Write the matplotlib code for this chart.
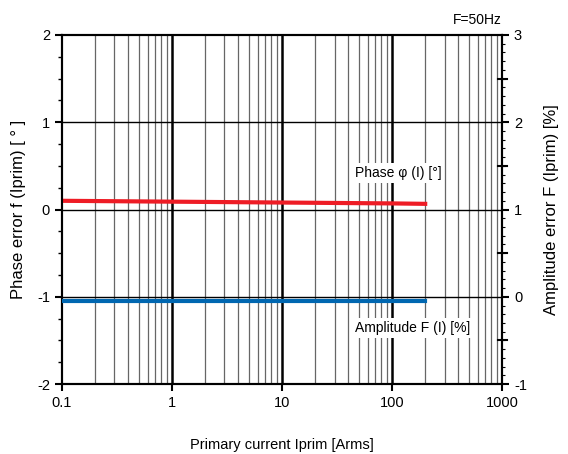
import matplotlib
matplotlib.use("Agg")
import matplotlib.pyplot as plt
from matplotlib.ticker import FixedLocator, MultipleLocator, NullFormatter
import numpy as np

plt.rcParams['font.family'] = ['Liberation Sans', 'DejaVu Sans']
plt.rcParams['axes.unicode_minus'] = False

# data
current = [0.1, 1, 10, 100, 200]                  # Iprim [Arms]
phase_err = [0.10, 0.09, 0.08, 0.07, 0.065]        # [deg], left axis
ampl_err = [-0.045, -0.045, -0.045, -0.045, -0.045]  # [%], right axis

x_ticks = [0.1, 1, 10, 100, 1000]
x_labels = ['0.1', '1', '10', '100', '1000']

fig = plt.figure(figsize=(5.68, 4.54), dpi=100)
ax = fig.add_axes([0.109, 0.154, 0.775, 0.769])
ax2 = ax.twinx()

ax.set_xscale('log')
ax.set_xlim(0.1, 1000)
ax.set_ylim(-2, 2)
ax2.set_ylim(-1, 3)

# grid
minors = [m * 10.0 ** e for e in range(-1, 3) for m in range(2, 10)]
for xv in minors:
    ax.axvline(xv, color='#666666', lw=0.9, zorder=1)
for xv in x_ticks[1:-1]:
    ax.axvline(xv, color='black', lw=1.8, zorder=1)
for yv in [-1, 0, 1]:
    ax.axhline(yv, color='black', lw=1.0, zorder=1)

ax.plot(current, phase_err, color='#ee1c25', lw=3, zorder=3)
ax2.plot(current, ampl_err, color='#0067b1', lw=3, zorder=3)

ax.xaxis.set_major_locator(FixedLocator(x_ticks))
ax.set_xticklabels(x_labels)
ax.xaxis.set_minor_formatter(NullFormatter())
ax.tick_params(axis='x', which='major', direction='out', length=5, width=1.5)
ax.tick_params(axis='x', which='minor', length=0)

ax.yaxis.set_major_locator(MultipleLocator(1))
ax.yaxis.set_minor_locator(MultipleLocator(0.25))
ax.tick_params(axis='y', which='major', direction='out', length=5, width=1.5)
ax.tick_params(axis='y', which='minor', direction='out', length=3, width=1)

ax2.yaxis.set_major_locator(MultipleLocator(1))
ax2.yaxis.set_minor_locator(MultipleLocator(0.1))
ax2.tick_params(axis='y', which='major', direction='out', length=5, width=1.5)
ax2.tick_params(axis='y', which='minor', direction='out', length=2.5, width=0.8)
for yv in [-0.5, 0.5, 1.5, 2.5]:
    ax2.plot([0.99, 1.012], [yv, yv], transform=ax2.get_yaxis_transform(),
             color='black', lw=1.5, clip_on=False)

for a in (ax, ax2):
    for s in a.spines.values():
        s.set_linewidth(1.5)
    a.tick_params(labelsize=10.5)

ax.set_xlabel('Primary current Iprim [Arms]', fontsize=10.5, labelpad=20)
ax.set_ylabel('Phase error f (Iprim) [ \u00b0 ]', fontsize=12, labelpad=8)
ax2.set_ylabel('Amplitude error F (Iprim) [%]', fontsize=12, labelpad=12)
ax.set_title('F=50Hz', loc='right', fontsize=10, pad=8)

box = dict(facecolor='white', edgecolor='none', pad=2)
ax.text(46, 0.42, 'Phase \u03c6 (I) [\u00b0]', fontsize=10, va='center',
        ha='left', bbox=box, zorder=4)
ax.text(46, -1.36, 'Amplitude F (I) [%]', fontsize=10, va='center',
        ha='left', bbox=box, zorder=4)

fig.savefig('out.png', dpi=100)
